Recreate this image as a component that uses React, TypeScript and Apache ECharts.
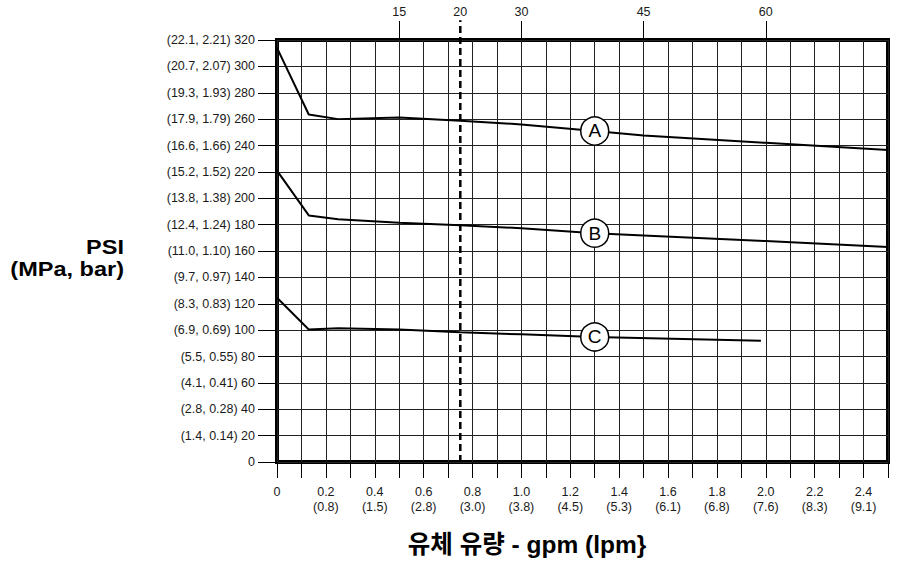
import React, { useEffect, useRef } from "react";
import * as echarts from "echarts";

// ---- data ----
const yTickValues = [0, 20, 40, 60, 80, 100, 120, 140, 160, 180, 200, 220, 240, 260, 280, 300, 320];
const yTickLabels = [
  "0",
  "(1.4, 0.14) 20",
  "(2.8, 0.28) 40",
  "(4.1, 0.41) 60",
  "(5.5, 0.55) 80",
  "(6.9, 0.69) 100",
  "(8.3, 0.83) 120",
  "(9.7, 0.97) 140",
  "(11.0, 1.10) 160",
  "(12.4, 1.24) 180",
  "(13.8, 1.38) 200",
  "(15.2, 1.52) 220",
  "(16.6, 1.66) 240",
  "(17.9, 1.79) 260",
  "(19.3, 1.93) 280",
  "(20.7, 2.07) 300",
  "(22.1, 2.21) 320",
];
const xTickValues = [0, 0.2, 0.4, 0.6, 0.8, 1.0, 1.2, 1.4, 1.6, 1.8, 2.0, 2.2, 2.4];
const xTickGpm = ["0", "0.2", "0.4", "0.6", "0.8", "1.0", "1.2", "1.4", "1.6", "1.8", "2.0", "2.2", "2.4"];
const xTickLpm = ["", "(0.8)", "(1.5)", "(2.8)", "(3.0)", "(3.8)", "(4.5)", "(5.3)", "(6.1)", "(6.8)", "(7.6)", "(8.3)", "(9.1)"];
const topTickValues = [0.5, 1.0, 1.5, 2.0];
const topLabelValues = [0.5, 0.75, 1.0, 1.5, 2.0];
const topLabels = ["15", "20", "30", "45", "60"];

const gpmAB = [0, 0.13, 0.25, 0.5, 0.75, 1.0, 1.3, 1.5, 2.0, 2.5];
const curveA = [314, 263.5, 260, 261.2, 258.8, 256, 251, 247.5, 242, 236.5];
const curveB = [221, 187, 184, 181.5, 179.5, 177.3, 173.5, 171.8, 167.5, 163];
const gpmC = [0, 0.13, 0.25, 0.5, 0.75, 1.0, 1.3, 1.98];
const curveC = [124.5, 100.5, 101.5, 100.5, 98.3, 96.8, 94.8, 92];

const curveNames = ["A", "B", "C"];
const markerGpm = 1.3;
const dashedGpm = 0.75;
const dashedTop = 335;

const yTitle = "PSI\n(MPa, bar)";
const xTitle = "유체 유량 - gpm (lpm}";

const key = (v: number) => Math.round(v * 1000) / 1000;

function interp(xs: number[], ys: number[], x: number) {
  for (let i = 0; i < xs.length - 1; i++) {
    if (x >= xs[i] && x <= xs[i + 1]) {
      const t = (x - xs[i]) / (xs[i + 1] - xs[i]);
      return ys[i] + t * (ys[i + 1] - ys[i]);
    }
  }
  return ys[ys.length - 1];
}

export default function App() {
  const ref = useRef<HTMLDivElement>(null);

  useEffect(() => {
    if (!ref.current) return;
    const chart = echarts.init(ref.current, undefined, { renderer: "svg" });

    const yMap = new Map<number, string>();
    yTickValues.forEach((v, i) => yMap.set(key(v), yTickLabels[i]));
    const xMap = new Map<number, string>();
    xTickValues.forEach((v, i) =>
      xMap.set(key(v), xTickLpm[i] ? `${xTickGpm[i]}\n${xTickLpm[i]}` : xTickGpm[i])
    );
    const topMap = new Map<number, string>();
    topLabelValues.forEach((v, i) => topMap.set(key(v), topLabels[i]));

    const font = "Liberation Sans, Arial, Helvetica, sans-serif";
    const textColor = "#1a1a1a";

    const curves = [
      { xs: gpmAB, ys: curveA },
      { xs: gpmAB, ys: curveB },
      { xs: gpmC, ys: curveC },
    ];

    const lineSeries = curves.map((c, i) => ({
      name: curveNames[i],
      type: "line",
      xAxisIndex: 0,
      yAxisIndex: 0,
      data: c.xs.map((x, j) => [x, c.ys[j]]),
      symbol: "none",
      smooth: false,
      lineStyle: { color: "#000", width: 2 },
      z: 3,
    }));

    const markerSeries = {
      type: "scatter",
      xAxisIndex: 0,
      yAxisIndex: 0,
      data: curves.map((c, i) => ({
        value: [markerGpm, interp(c.xs, c.ys, markerGpm)],
        name: curveNames[i],
      })),
      symbol: "circle",
      symbolSize: 28,
      itemStyle: { color: "#fff", borderColor: "#000", borderWidth: 1.5, opacity: 1 },
      label: {
        show: true,
        position: "inside",
        formatter: (p: any) => p.name,
        color: "#000",
        fontSize: 19,
        fontFamily: font,
      },
      z: 5,
    };

    const dashedSeries = {
      type: "line",
      xAxisIndex: 0,
      yAxisIndex: 0,
      data: [
        [dashedGpm, 0],
        [dashedGpm, dashedTop],
      ],
      symbol: "none",
      clip: false,
      lineStyle: { color: "#000", width: 2.5, type: [7, 4] },
      z: 4,
    };

    chart.setOption({
      animation: false,
      backgroundColor: "#fff",
      grid: {
        left: 277,
        top: 40,
        width: 611,
        height: 422,
        show: true,
        borderColor: "#000",
        borderWidth: 4,
        backgroundColor: "transparent",
        containLabel: false,
      },
      xAxis: [
        {
          type: "value",
          position: "bottom",
          min: 0,
          max: 2.5,
          interval: 0.1,
          axisLine: { show: false },
          axisTick: { show: true, length: 16, lineStyle: { color: "#000", width: 1 } },
          splitLine: { show: true, lineStyle: { color: "#222", width: 1 } },
          axisLabel: {
            show: true,
            margin: 22,
            color: textColor,
            fontSize: 12.5,
            fontFamily: font,
            lineHeight: 15,
            align: "center",
            verticalAlign: "top",
            formatter: (v: number) => xMap.get(key(v)) ?? "",
          },
        },
        {
          type: "value",
          position: "top",
          min: 0,
          max: 2.5,
          axisLine: { show: false },
          splitLine: { show: false },
          axisTick: {
            show: true,
            length: 19,
            customValues: topTickValues,
            lineStyle: { color: "#000", width: 1 },
          },
          axisLabel: {
            show: true,
            margin: 22,
            color: textColor,
            fontSize: 12.5,
            fontFamily: font,
            customValues: topLabelValues,
            formatter: (v: number) => topMap.get(key(v)) ?? "",
          },
        },
      ],
      yAxis: [
        {
          type: "value",
          position: "left",
          min: 0,
          max: 320,
          interval: 20,
          axisLine: { show: false },
          axisTick: { show: true, length: 19, lineStyle: { color: "#000", width: 1 } },
          splitLine: { show: true, lineStyle: { color: "#222", width: 1 } },
          axisLabel: {
            show: true,
            margin: 22,
            color: textColor,
            fontSize: 12.5,
            fontFamily: font,
            formatter: (v: number) => yMap.get(key(v)) ?? "",
          },
        },
      ],
      graphic: [
        {
          type: "text",
          x: 124,
          y: 258,
          scaleX: 1.12,
          style: {
            text: yTitle,
            align: "right",
            verticalAlign: "middle",
            font: `bold 21px ${font}`,
            lineHeight: 22,
            fill: "#000",
          },
        },
        {
          type: "text",
          x: 527,
          y: 544,
          style: {
            text: xTitle,
            align: "center",
            verticalAlign: "middle",
            font: `bold 24.5px Liberation Sans, "Noto Sans CJK KR", sans-serif`,
            fill: "#000",
          },
        },
      ],
      series: [...lineSeries, dashedSeries, markerSeries],
    });

    return () => chart.dispose();
  }, []);

  return (
    <div
      ref={ref}
      style={{ position: "fixed", left: 0, top: 0, width: 900, height: 569, background: "#fff" }}
    />
  );
}
